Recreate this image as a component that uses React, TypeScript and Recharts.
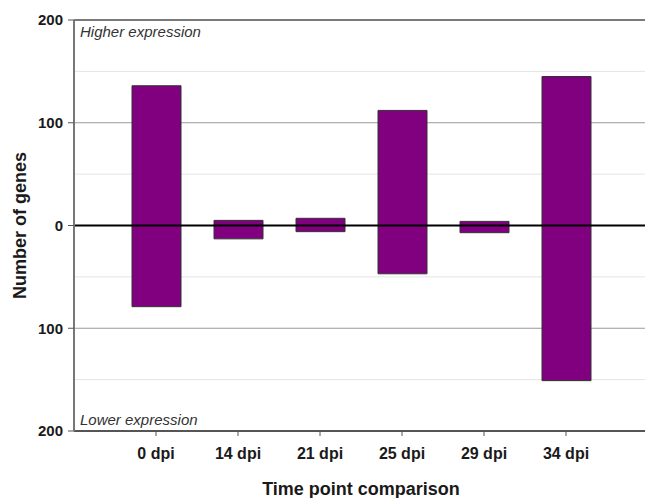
import {
  BarChart,
  Bar,
  XAxis,
  YAxis,
  CartesianGrid,
  ReferenceLine,
  Label,
} from "recharts";

// ─── Data ───────────────────────────────────────────────────────────────────
const categories = ["0 dpi", "14 dpi", "21 dpi", "25 dpi", "29 dpi", "34 dpi"];
const higherExpression = [136, 5, 7, 112, 4, 145];
const lowerExpression = [79, 13, 6, 47, 7, 151];
const yTicks = [-200, -100, 0, 100, 200];
const minorGrid = [-150, -50, 50, 150];
const majorGrid = [-100, 100];

const data = categories.map((name, i) => ({
  name,
  up: higherExpression[i],
  down: lowerExpression[i],
}));

// ─── Palette ────────────────────────────────────────────────────────────────
const PURPLE = "#800080";
const FONT = "'Liberation Sans', Arial, sans-serif";
const TEXT = "#1a1a1a";

function YTitle({ viewBox }: any) {
  const cx = 20;
  const cy = viewBox.y + viewBox.height / 2;
  return (
    <text
      x={cx}
      y={cy}
      transform={`rotate(-90 ${cx} ${cy})`}
      textAnchor="middle"
      dominantBaseline="central"
      fontSize={18}
      fontWeight="bold"
      fill={TEXT}
      fontFamily={FONT}
    >
      Number of genes
    </text>
  );
}

export default function App() {
  return (
    <>
      <style>{"html,body{margin:0;padding:0;overflow:hidden;background:#fff}"}</style>
      <BarChart
        width={700}
        height={498}
        data={data}
        margin={{ top: 20, right: 52, bottom: 0, left: 0 }}
        style={{ fontFamily: FONT }}
      >
        {/* minor grid */}
        <CartesianGrid
          vertical={false}
          horizontalValues={minorGrid}
          stroke="#e4e4e4"
          strokeWidth={1}
        />
        {/* major grid */}
        <CartesianGrid
          vertical={false}
          horizontalValues={majorGrid}
          stroke="#9a9a9a"
          strokeWidth={1}
        />

        <XAxis
          dataKey="name"
          height={67}
          padding={{ left: 41, right: 41 }}
          axisLine={{ stroke: "#555", strokeWidth: 2 }}
          tickLine={{ stroke: "#555" }}
          tickSize={5}
          tickMargin={12}
          tick={{ fill: TEXT, fontSize: 16, fontWeight: "bold", fontFamily: FONT }}
        >
          <Label
            value="Time point comparison"
            position="insideBottom"
            offset={3}
            fill={TEXT}
            fontSize={18}
            fontWeight="bold"
            fontFamily={FONT}
          />
        </XAxis>
        <YAxis
          type="number"
          domain={[-200, 200]}
          ticks={yTicks}
          width={74}
          tickFormatter={(v) => String(Math.abs(v))}
          axisLine={{ stroke: "#777", strokeWidth: 2 }}
          tickLine={{ stroke: "#555" }}
          tickSize={6}
          tickMargin={5}
          tick={{ fill: TEXT, fontSize: 15, fontWeight: "bold", fontFamily: FONT }}
          label={<YTitle />}
        />

        <ReferenceLine
          y={200}
          stroke="#7a7a7a"
          strokeWidth={2}
          label={{
            value: "Higher expression",
            position: "insideTopLeft",
            offset: 6,
            fill: "#333",
            fontSize: 15,
            fontStyle: "italic",
            fontFamily: FONT,
          }}
        />
        <ReferenceLine
          y={-200}
          stroke="none"
          label={{
            value: "Lower expression",
            position: "insideBottomLeft",
            offset: 6,
            fill: "#333",
            fontSize: 15,
            fontStyle: "italic",
            fontFamily: FONT,
          }}
        />

        <Bar
          dataKey={(d: any) => [-d.down, d.up]}
          fill={PURPLE}
          stroke="#333"
          strokeWidth={1}
          barSize={49}
          isAnimationActive={false}
        />

        <ReferenceLine y={0} stroke="#000" strokeWidth={2} />
      </BarChart>
    </>
  );
}
